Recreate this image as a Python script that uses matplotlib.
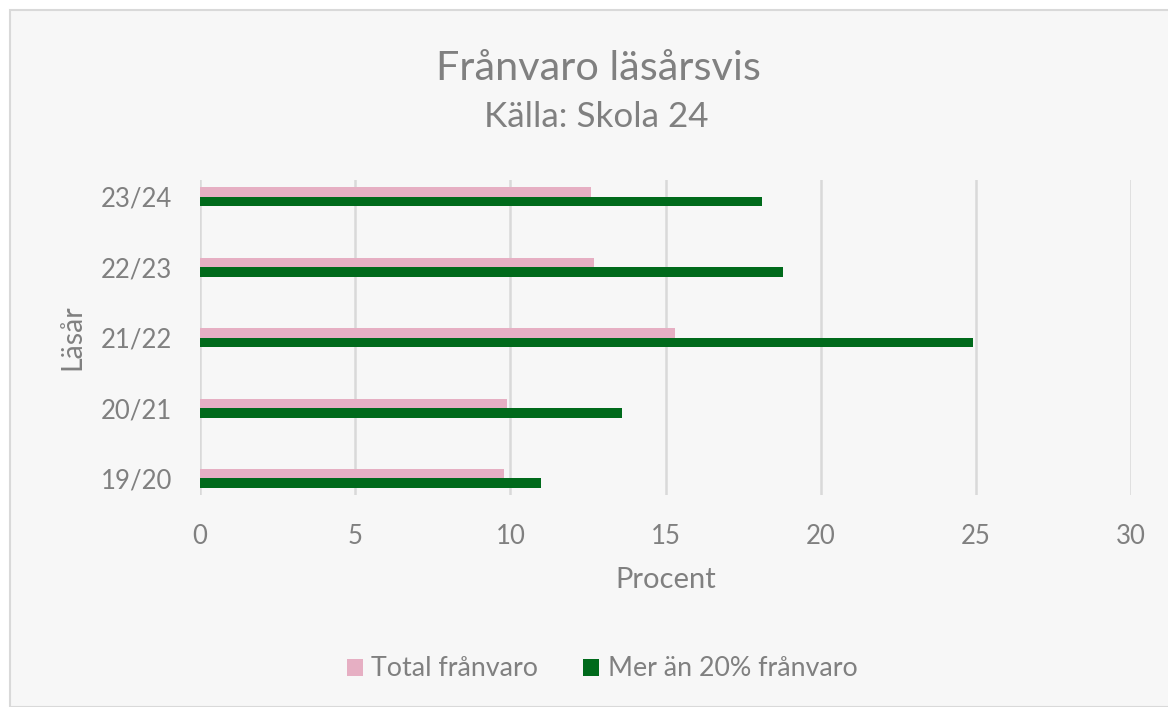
import matplotlib
matplotlib.use("Agg")
import matplotlib.pyplot as plt
from matplotlib.patches import Rectangle, Patch
import numpy as np

categories = ["19/20", "20/21", "21/22", "22/23", "23/24"]
total_franvaro = [9.8, 9.9, 15.3, 12.7, 12.6]
mer_an_20 = [11.0, 13.6, 24.9, 18.8, 18.1]
xticks = [0, 5, 10, 15, 20, 25, 30]

PINK = "#E6AFC3"
GREEN = "#006A1B"
TXT = "#808080"
FONT = "Lato"

W, H = 1168, 707
fig = plt.figure(figsize=(W / 100, H / 100), dpi=100, facecolor="white")
fig.patches.append(Rectangle((10 / W, 0), 1.2, (H - 10) / H, transform=fig.transFigure,
                             facecolor="#F7F7F7", edgecolor="#D9D9D9", linewidth=1.5, zorder=-10))

ax = fig.add_axes([200 / W, 1 - 495 / H, (1131 - 200) / W, (495 - 180) / H])
ax.set_facecolor("none")
ax.set_zorder(5)

y = np.arange(len(categories))
bh = 0.135
ax.barh(y + 0.067, total_franvaro, height=bh, color=PINK, zorder=3, label="Total frånvaro")
ax.barh(y - 0.067, mer_an_20, height=bh, color=GREEN, zorder=3, label="Mer än 20% frånvaro")

ax.set_xlim(0, 30)
ax.set_ylim(-0.234, 4.241)
ax.set_xticks(xticks)
ax.set_xticklabels([str(t) for t in xticks], fontsize=18.5, color=TXT, family=FONT)
ax.set_yticks(y)
ax.set_yticklabels(categories, fontsize=18.5, color=TXT, family=FONT)
ax.tick_params(axis="both", length=0)
ax.tick_params(axis="x", pad=21)
ax.tick_params(axis="y", pad=20)
ax.grid(axis="x", color="#D9D9D9", linewidth=1.8, zorder=0)
for s in ax.spines.values():
    s.set_visible(False)

ax.set_xlabel("Procent", fontsize=21, color=TXT, family=FONT, labelpad=13)
ax.set_ylabel("Läsår", fontsize=20.5, color=TXT, family=FONT, labelpad=11)

fig.text(598 / W, 1 - 68 / H, "Frånvaro läsårsvis", ha="center", va="center",
         fontsize=29.8, color=TXT, family=FONT)
fig.text(596 / W, 1 - 117 / H, "Källa: Skola 24", ha="center", va="center",
         fontsize=25.2, color=TXT, family=FONT)

handles = [Patch(facecolor=PINK, label="Total frånvaro"),
           Patch(facecolor=GREEN, label="Mer än 20% frånvaro")]
fig.legend(handles=handles, loc="center", bbox_to_anchor=(602 / W, 1 - 669 / H), ncol=2,
           frameon=False, prop={"family": FONT, "size": 19.3}, labelcolor=TXT,
           handlelength=0.6, handleheight=0.6, handletextpad=0.3, columnspacing=1.7)

fig.savefig("out.png", dpi=100, facecolor="white")
